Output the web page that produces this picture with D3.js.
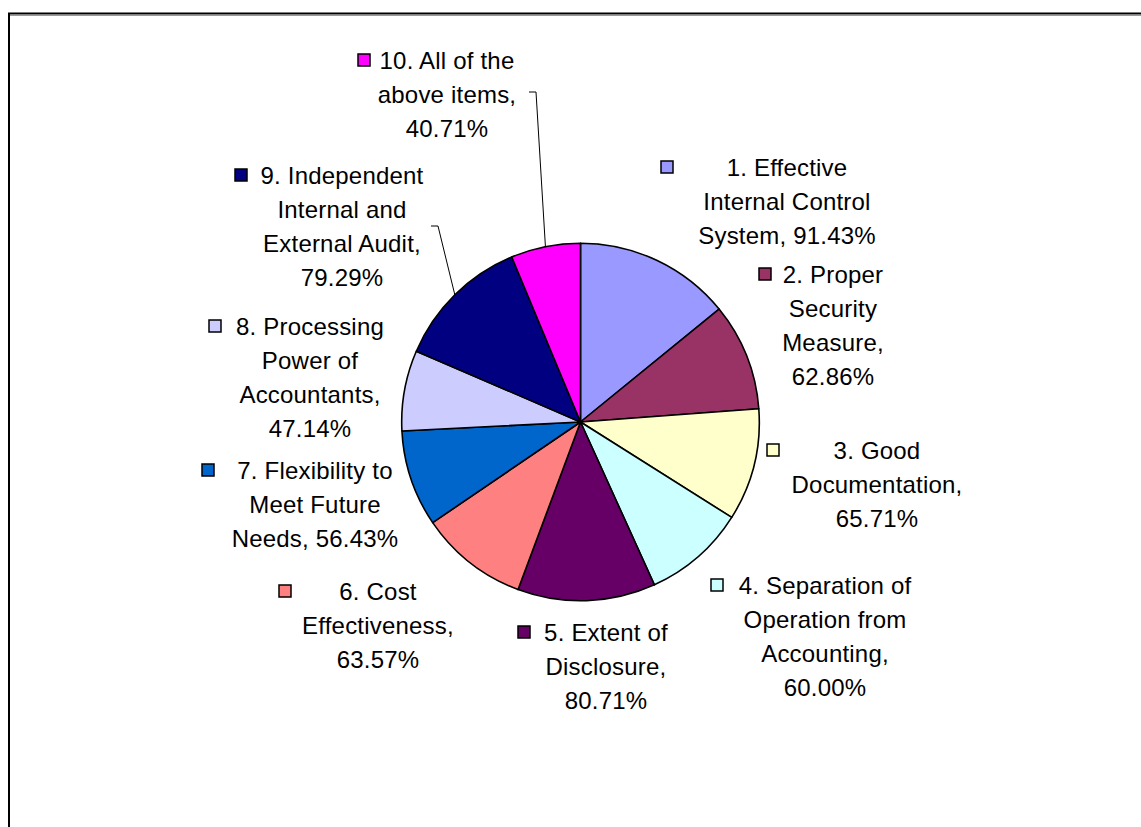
<!DOCTYPE html>
<html>
<head>
<meta charset="utf-8">
<script src="https://cdn.jsdelivr.net/npm/d3@7"></script>
<style>
  html, body { margin: 0; padding: 0; background: #fff; }
  svg { display: block; }
  text { font-family: "Liberation Sans", Arial, sans-serif; }
</style>
</head>
<body>
<svg id="chart" width="1141" height="827"></svg>
<script>
// ---- data ----
const categories = [
  "1. Effective Internal Control System",
  "2. Proper Security Measure",
  "3. Good Documentation",
  "4. Separation of Operation from Accounting",
  "5. Extent of Disclosure",
  "6. Cost Effectiveness",
  "7. Flexibility to Meet Future Needs",
  "8. Processing Power of Accountants",
  "9. Independent Internal and External Audit",
  "10. All of the above items"
];
const values = [91.43, 62.86, 65.71, 60.00, 80.71, 63.57, 56.43, 47.14, 79.29, 40.71];
const colors = ["#9999FF", "#993366", "#FFFFCC", "#CCFFFF", "#660066",
                "#FF8080", "#0066CC", "#CCCCFF", "#000080", "#FF00FF"];
// label text wrapping as in the original (category words + value)
const labelLines = [
  ["1. Effective", "Internal Control", "System, 91.43%"],
  ["2. Proper", "Security", "Measure,", "62.86%"],
  ["3. Good", "Documentation,", "65.71%"],
  ["4. Separation of", "Operation from", "Accounting,", "60.00%"],
  ["5. Extent of", "Disclosure,", "80.71%"],
  ["6. Cost", "Effectiveness,", "63.57%"],
  ["7. Flexibility to", "Meet Future", "Needs, 56.43%"],
  ["8. Processing", "Power of", "Accountants,", "47.14%"],
  ["9. Independent", "Internal and", "External Audit,", "79.29%"],
  ["10. All of the", "above items,", "40.71%"]
];

// ---- layout (positions, not data) ----
const W = 1141, H = 827;
const cx = 580.5, cy = 422, R = 178.8;
const fontSize = 24, lineH = 34, keySize = 12;
// text centre x, first-line centre y, key centre x
const labelPos = [
  {tx: 787, ty: 167, kx: 667},
  {tx: 833, ty: 274, kx: 765},
  {tx: 877, ty: 450, kx: 773},
  {tx: 825, ty: 585, kx: 717},
  {tx: 606, ty: 632, kx: 524},
  {tx: 378, ty: 591, kx: 285},
  {tx: 315, ty: 470, kx: 208},
  {tx: 310, ty: 326, kx: 215},
  {tx: 342, ty: 175, kx: 241},
  {tx: 447, ty: 60,  kx: 364}
];
// leader lines (start point near label)
const leaders = [
  {i: 8, x0: 431, y0: 226, x1: 438, y1: 226},
  {i: 9, x0: 529, y0: 92,  x1: 536, y1: 92}
];

const svg = d3.select("#chart");

// frame
svg.append("line").attr("x1", 8).attr("x2", W).attr("y1", 15.5).attr("y2", 15.5)
  .attr("stroke", "#999").attr("stroke-width", 1);
svg.append("rect").attr("x", 9).attr("y", 13.5).attr("width", W + 10).attr("height", H + 10)
  .attr("fill", "none").attr("stroke", "#000").attr("stroke-width", 2);

// pie
const pie = d3.pie().sort(null).value(d => d)(values);
const arc = d3.arc().innerRadius(0).outerRadius(R);
const g = svg.append("g").attr("transform", `translate(${cx},${cy})`);
g.selectAll("path").data(pie).join("path")
  .attr("d", arc)
  .attr("fill", (d, i) => colors[i])
  .attr("stroke", "#000")
  .attr("stroke-width", 1.6)
  .attr("stroke-linejoin", "round");

// leader lines
leaders.forEach(l => {
  const p = pie[l.i];
  const a = (p.startAngle + p.endAngle) / 2;
  const ex = cx + R * Math.sin(a), ey = cy - R * Math.cos(a);
  svg.append("polyline")
    .attr("points", `${l.x0},${l.y0} ${l.x1},${l.y1} ${ex},${ey}`)
    .attr("fill", "none").attr("stroke", "#000").attr("stroke-width", 1);
});

// labels
const lg = svg.append("g");
labelLines.forEach((lines, i) => {
  const pos = labelPos[i];
  lg.append("rect")
    .attr("x", pos.kx - keySize / 2).attr("y", pos.ty - keySize / 2)
    .attr("width", keySize).attr("height", keySize)
    .attr("fill", colors[i]).attr("stroke", "#000").attr("stroke-width", 1.5);
  lines.forEach((t, j) => {
    lg.append("text")
      .attr("x", pos.tx).attr("y", pos.ty + j * lineH)
      .attr("dy", "0.36em")
      .attr("text-anchor", "middle")
      .attr("font-size", fontSize)
      .attr("letter-spacing", "0.2px")
      .attr("fill", "#000")
      .text(t);
  });
});
</script>
</body>
</html>
